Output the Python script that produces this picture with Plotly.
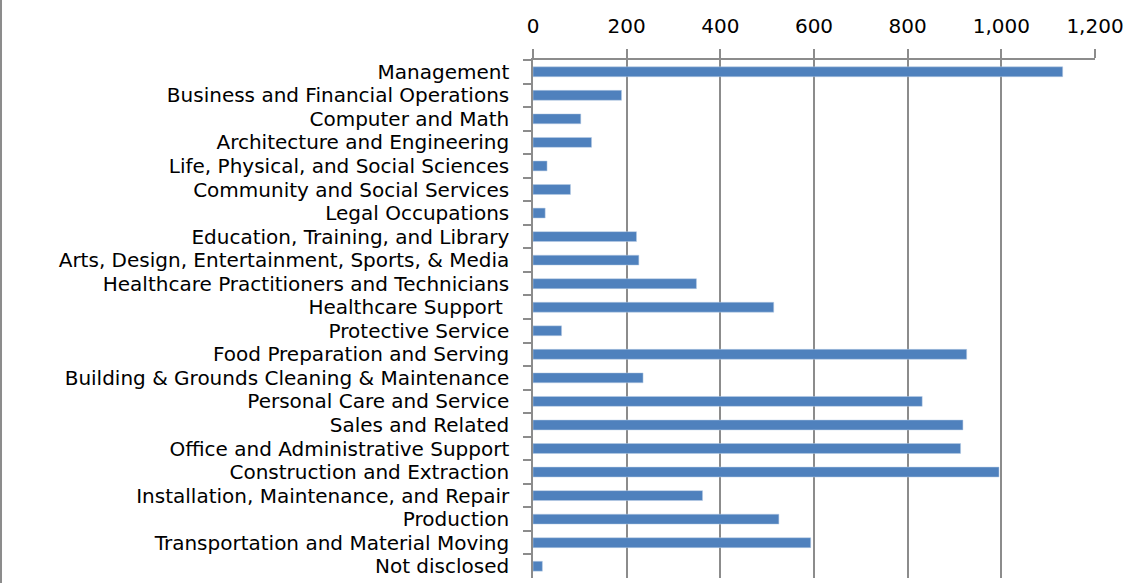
import plotly.graph_objects as go

categories = [
    "Management",
    "Business and Financial Operations",
    "Computer and Math",
    "Architecture and Engineering",
    "Life, Physical, and Social Sciences",
    "Community and Social Services",
    "Legal Occupations",
    "Education, Training, and Library",
    "Arts, Design, Entertainment, Sports, & Media",
    "Healthcare Practitioners and Technicians",
    "Healthcare Support\u00a0",
    "Protective Service",
    "Food Preparation and Serving",
    "Building & Grounds Cleaning & Maintenance",
    "Personal Care and Service",
    "Sales and Related",
    "Office and Administrative Support",
    "Construction and Extraction",
    "Installation, Maintenance, and Repair",
    "Production",
    "Transportation and Material Moving",
    "Not disclosed",
]

values = [1131, 189, 102, 125, 30, 80, 26, 221, 226, 349, 514, 61, 926, 235,
          831, 918, 913, 995, 362, 525, 593, 20]

tick_vals = [0, 200, 400, 600, 800, 1000, 1200]
tick_text = ["0", "200", "400", "600", "800", "1,000", "1,200"]

FONT = "DejaVu Sans"
GRID = "#8c8c8c"

fig = go.Figure(
    go.Bar(
        x=values,
        y=categories,
        orientation="h",
        marker=dict(color="#4F81BD", line=dict(color="#b9cde5", width=0.5)),
    )
)

fig.update_layout(
    width=1132,
    height=583,
    margin=dict(l=533, r=37, t=60, b=5),
    paper_bgcolor="white",
    plot_bgcolor="white",
    bargap=0.58,
    showlegend=False,
    font=dict(family=FONT, color="black", size=20),
)

fig.update_xaxes(
    side="top",
    range=[0, 1200],
    tickmode="array",
    tickvals=tick_vals,
    ticktext=tick_text,
    showgrid=True,
    gridcolor=GRID,
    gridwidth=1.5,
    showline=True,
    linecolor=GRID,
    linewidth=1.5,
    ticks="outside",
    ticklen=9,
    tickcolor=GRID,
    tickwidth=1.5,
    tickfont=dict(family=FONT, size=20, color="black"),
    ticklabelstandoff=8,
    zeroline=False,
    automargin=False,
)

fig.update_yaxes(
    categoryorder="array",
    categoryarray=categories,
    tickmode="linear",
    tick0=0,
    dtick=1,
    autorange="reversed",
    showline=True,
    linecolor=GRID,
    linewidth=1.5,
    ticks="outside",
    tickson="boundaries",
    ticklen=8,
    tickcolor=GRID,
    tickwidth=1.5,
    tickfont=dict(family=FONT, size=20, color="black"),
    ticklabelstandoff=18,
    showgrid=False,
    automargin=False,
)

fig.add_shape(
    type="line", xref="paper", yref="paper",
    x0=-0.9466, x1=-0.9466, y0=-0.05, y1=1.2,
    line=dict(color=GRID, width=2),
)

fig.write_html(
    "out.html",
    config={"displayModeBar": False},
    post_script="document.body.style.margin='0';document.body.style.overflow='hidden';",
)
